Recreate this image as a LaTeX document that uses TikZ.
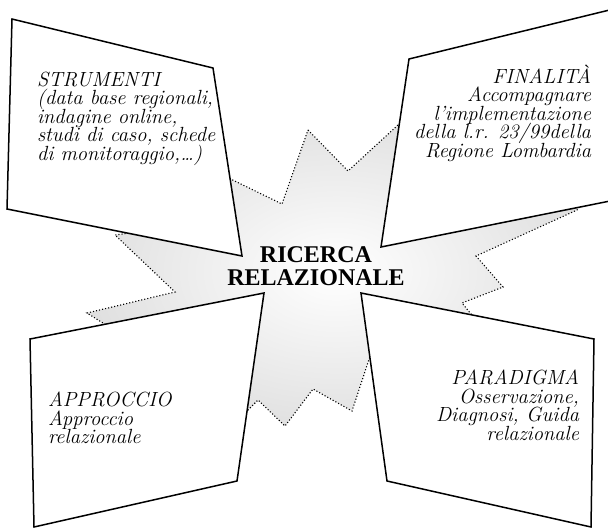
\documentclass[tikz,border=0pt]{standalone}
\usepackage{fontspec}
\usetikzlibrary{positioning}
\newfontfamily\burstfont{Liberation Serif}
\definecolor{mygreyc}{RGB}{224,224,224}
\pgfdeclarelayer{background}
\pgfsetlayers{background,main}
\newcommand\boxfont{\fontsize{20.5}{18.5}\selectfont\itshape\lineskiplimit=-20pt}

\begin{document}
\begin{tikzpicture}[x=1pt,y=-1pt,outer sep=0pt,
            quadb/.style={
                draw=black,
                fill=white,
                line width=1.5pt,
                line join=miter},
            burstb/.style={
                draw=black,
                dotted,
                line width=1.1pt,
                inner color=white,
                outer color=mygreyc},
            textb/.style={inner sep=0pt,font=\boxfont},
            leftb/.style={textb,align=left,anchor=north west},
            rightb/.style={textb,align=right,anchor=north east},
        ]
        \useasboundingbox (0,0) rectangle (608,528);
        \clip (0,0) rectangle (608,528);

        \begin{pgfonlayer}{background}
            \path[burstb] (308,130) -- (348,171) -- (398,125) -- (420,110) -- (450,200)
                -- (585,200) -- (577,210) -- (476,256) -- (503,287) -- (462,303)
                -- (471,314) -- (500,340) -- (377,335) -- (352,411) -- (313,389)
                -- (285,426) -- (258,400) -- (249,409) -- (225,433) -- (130,340)
                -- (87,313) -- (175,292) -- (115,235) -- (130,233) -- (150,200)
                -- (210,169) -- (282,204) -- cycle;
        \end{pgfonlayer}

        \draw[quadb] (12,19) -- (213,68) -- (242,256) -- (7,209) -- cycle;
        \draw[quadb] (409,59) -- (630,5) -- (630,197) -- (381,247) -- cycle;
        \draw[quadb] (30,339) -- (264,293) -- (237,481) -- (34,527) -- cycle;
        \draw[quadb] (361,293) -- (594,339) -- (591,527) -- (387,481) -- cycle;

        \node[font={\burstfont\bfseries\fontsize{24}{23}\selectfont},align=center,inner sep=0pt] (Ricerca) at (316,266) {RICERCA\\RELAZIONALE};

        \node[leftb] (Strumenti) at (37,72) {STRUMENTI\\(data base regionali,\\indagine online,\\studi di caso, schede\\di monitoraggio,…)};
        \node[rightb] (Finalita) at (591,65) {FINALITÀ\\Accompagnare\\l’implementazione\\della l.r. 23/99della\\Regione Lombardia};
        \node[leftb] (Approccio) at (48,392) {APPROCCIO\\Approccio\\relazionale};
        \node[rightb] (Paradigma) at (579,370) {PARADIGMA\\Osservazione,\\Diagnosi, Guida\\relazionale};
    \end{tikzpicture}
\end{document}
